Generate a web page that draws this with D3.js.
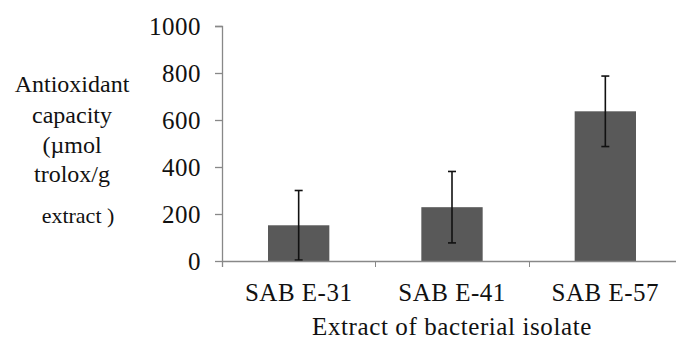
<!DOCTYPE html>
<html>
<head>
<meta charset="utf-8">
<script src="https://cdn.jsdelivr.net/npm/d3@7"></script>
<style>
  body { margin: 0; background: #fff; }
</style>
</head>
<body>
<div id="okvir"></div>
<script>
const isolates = ["SAB E-31", "SAB E-41", "SAB E-57"]
const capacity = [152, 229, 637]
const errors = [148, 152, 150]
const yTicks = [0, 200, 400, 600, 800, 1000]
const yTitleLines = ["Antioxidant", "capacity", "(\u00b5mol", "trolox/g", "extract )"]
const xTitle = "Extract of bacterial isolate"

const pismo = "Liberation Serif"

function crtajStupce() {

  // 1. Pristup podacima

  const dataset = isolates.map((name, i) => ({ name, value: capacity[i], err: errors[i] }))
  const xAccessor = d => d.name
  const yAccessor = d => d.value

  // 2. Dimenzije grafa

  let dimenzije = {
    sirina: 676,
    visina: 339,
    margine: { top: 26, right: -6, bottom: 78, left: 222 },
  }
  dimenzije.grSirina = dimenzije.sirina - dimenzije.margine.left - dimenzije.margine.right
  dimenzije.grVisina = dimenzije.visina - dimenzije.margine.top - dimenzije.margine.bottom

  // 3. Crtanje canvasa

  const okvir = d3.select("#okvir")
    .append("svg")
      .attr("width", dimenzije.sirina)
      .attr("height", dimenzije.visina)
      .attr("font-family", pismo)

  const granice = okvir.append("g")
    .attr("transform", `translate(${dimenzije.margine.left}, ${dimenzije.margine.top})`)

  // 4. Razmjeri

  const xSkala = d3.scaleBand()
    .domain(isolates)
    .range([0, dimenzije.grSirina])

  const ySkala = d3.scaleLinear()
    .domain([0, 1000])
    .range([dimenzije.grVisina, 0])

  const sirinaStupca = xSkala.bandwidth() * 0.4

  // 5. Stupci i greske

  granice.selectAll("rect.stupac")
    .data(dataset)
    .join("rect")
      .attr("class", "stupac")
      .attr("x", d => xSkala(xAccessor(d)) + (xSkala.bandwidth() - sirinaStupca) / 2)
      .attr("y", d => ySkala(yAccessor(d)))
      .attr("width", sirinaStupca)
      .attr("height", d => dimenzije.grVisina - ySkala(yAccessor(d)))
      .attr("fill", "#595959")

  const greske = granice.selectAll("g.greska")
    .data(dataset)
    .join("g")
      .attr("class", "greska")
      .attr("transform", d => `translate(${xSkala(xAccessor(d)) + xSkala.bandwidth() / 2}, 0)`)
      .attr("stroke", "#111")
      .attr("stroke-width", 1.6)

  greske.append("line")
      .attr("y1", d => ySkala(d.value + d.err))
      .attr("y2", d => ySkala(d.value - d.err))
  greske.append("line")
      .attr("x1", -4).attr("x2", 4)
      .attr("y1", d => ySkala(d.value + d.err))
      .attr("y2", d => ySkala(d.value + d.err))
  greske.append("line")
      .attr("x1", -4).attr("x2", 4)
      .attr("y1", d => ySkala(d.value - d.err))
      .attr("y2", d => ySkala(d.value - d.err))

  // 6. Osi

  const yOs = granice.append("g")
    .call(d3.axisLeft(ySkala).tickValues(yTicks).tickFormat(d3.format("d")).tickSize(7).tickPadding(14))
  yOs.select(".domain").attr("d", `M-7,0.5H0.5V${dimenzije.grVisina + 6}`)

  const xOs = granice.append("g")
    .attr("transform", `translate(0, ${dimenzije.grVisina})`)
    .call(d3.axisBottom(xSkala).tickSize(0).tickPadding(22))

  // granice kategorija
  const granicaKat = isolates.map(d => xSkala(d)).concat([dimenzije.grSirina])
  xOs.selectAll("line.granica")
    .data(granicaKat)
    .join("line")
      .attr("class", "granica")
      .attr("x1", d => Math.round(d) + 0.5).attr("x2", d => Math.round(d) + 0.5)
      .attr("y1", 0).attr("y2", 6)
      .attr("stroke", "#888")

  granice.selectAll("g").attr("font-family", pismo).attr("font-size", 25)
  granice.selectAll(".domain, .tick line")
      .attr("stroke", "#888")
      .attr("stroke-width", 1.3)
  granice.selectAll(".tick text")
      .attr("fill", "#111")
      .attr("letter-spacing", 0.5)

  // 7. Oznake osi

  const yBaze = [92, 123, 153, 182, 223]
  okvir.append("g").selectAll("text")
    .data(yTitleLines)
    .join("text")
      .attr("x", (d, i) => i === yTitleLines.length - 1 ? 78 : 72)
      .attr("y", (d, i) => yBaze[i])
      .attr("text-anchor", "middle")
      .attr("fill", "#111")
      .attr("font-size", (d, i) => i === yTitleLines.length - 1 ? 22 : 24)
      .text(d => d)

  okvir.append("text")
      .attr("x", 452)
      .attr("y", 335)
      .attr("text-anchor", "middle")
      .attr("fill", "#111")
      .attr("font-size", 25)
      .attr("letter-spacing", 0.6)
      .text(xTitle)
}
crtajStupce()
</script>
</body>
</html>
